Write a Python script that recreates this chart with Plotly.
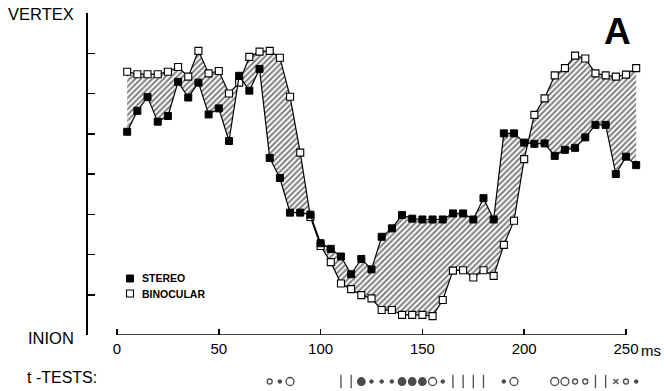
import plotly.graph_objects as go

# ---------------- data ----------------
times_ms = [5, 10, 15, 20, 25, 30, 35, 40, 45, 50,
            55, 60, 65, 70, 75, 80, 85, 90, 95, 100,
            105, 110, 115, 120, 125, 130, 135, 140, 145, 150,
            155, 160, 165, 170, 175, 180, 185, 190, 195, 200,
            205, 210, 215, 220, 225, 230, 235, 240, 245, 250, 255]

stereo = [5.05, 5.57, 5.91, 5.30, 5.44, 6.29, 5.90, 6.27, 5.48, 5.63,
          4.82, 6.44, 6.07, 6.61, 4.40, 3.90, 3.04, 3.04, 2.99, 2.28,
          2.14, 1.95, 1.51, 1.89, 1.63, 2.44, 2.65, 2.98, 2.89, 2.87,
          2.87, 2.87, 3.02, 3.02, 2.87, 3.40, 2.87, 5.01, 5.01, 4.78,
          4.75, 4.76, 4.45, 4.60, 4.65, 4.91, 5.22, 5.22, 4.00, 4.43, 4.22]

binocular = [6.54, 6.48, 6.48, 6.48, 6.54, 6.66, 6.42, 7.06, 6.50, 6.56,
             6.00, 6.27, 6.91, 7.04, 7.06, 6.89, 5.92, 4.53, 2.93, 2.21,
             1.81, 1.28, 1.14, 0.99, 0.91, 0.62, 0.62, 0.50, 0.50, 0.50,
             0.47, 0.87, 1.60, 1.61, 1.43, 1.61, 1.47, 2.24, 2.84, 4.37,
             5.47, 5.88, 6.45, 6.63, 6.94, 6.87, 6.50, 6.45, 6.42, 6.47, 6.63]

x_tick_vals = [0, 50, 100, 150, 200, 250]
x_tick_text = ["0", "50", "100", "150", "200", "250"]
y_tick_vals = [0, 1, 2, 3, 4, 5, 6, 7, 8]

ttest_times = [75, 80, 85, 110, 115, 120, 125, 130, 135, 140, 145, 150, 155, 160,
               165, 170, 175, 180, 190, 195, 215, 220, 225, 230, 235, 240, 245, 250, 255]
ttest_marks = ["o", ".", "O", "|", "|", "*", ".", ".", ".", "*", "*", "*", "O", ".",
               "|", "|", "|", "|", ".", "O", "O", "O", "o", "o", "|", "|", "x", "o", "."]

# ---------------- styling ----------------
FONT = "Liberation Sans, Arial, Helvetica, sans-serif"
W, H = 664, 391
ML, MR, MT, MB = 88, 14, 13, 5
PW, PH = W - ML - MR, H - MT - MB


def px_x(p):
    return (p - ML) / PW


def px_y(p):
    return (H - MB - p) / PH


mark_style = {
    "o": ("circle-open", 5),
    ".": ("circle", 3.2),
    "O": ("circle-open", 8),
    "*": ("circle", 7.5),
    "|": ("line-ns-open", 9.5),
    "x": ("x-thin-open", 5),
}

fig = go.Figure()

# hatched band between the two curves
fig.add_trace(go.Scatter(x=times_ms, y=binocular, mode="lines",
                         line=dict(width=0, color="black"), hoverinfo="skip"))
fig.add_trace(go.Scatter(x=times_ms, y=stereo, mode="lines", fill="tonexty",
                         line=dict(width=0, color="black"),
                         fillcolor="white",
                         fillpattern=dict(shape="/", fgcolor="black", bgcolor="white",
                                          size=4, solidity=0.5),
                         hoverinfo="skip"))

# the two series
fig.add_trace(go.Scatter(x=times_ms, y=binocular, mode="lines+markers", name="BINOCULAR",
                         line=dict(width=1.2, color="black"),
                         marker=dict(symbol="square", size=7, color="white",
                                     line=dict(width=1.1, color="black"))))
fig.add_trace(go.Scatter(x=times_ms, y=stereo, mode="lines+markers", name="STEREO",
                         line=dict(width=1.2, color="black"),
                         marker=dict(symbol="square", size=7, color="black",
                                     line=dict(width=1, color="black"))))

# t-tests row
fig.add_trace(go.Scatter(
    x=ttest_times, y=[0] * len(ttest_times), xaxis="x", yaxis="y2", mode="markers",
    cliponaxis=False,
    marker=dict(symbol=[mark_style[m][0] for m in ttest_marks],
                size=[mark_style[m][1] for m in ttest_marks],
                color="black", line=dict(width=1.3, color="black")),
    hoverinfo="skip"))

annotations = [
    dict(text="VERTEX", x=px_x(76), y=px_y(14), xanchor="right", yanchor="middle",
         font=dict(size=16.5, color="black", family=FONT)),
    dict(text="INION", x=px_x(76), y=px_y(337.5), xanchor="right", yanchor="middle",
         font=dict(size=16.5, color="black", family=FONT)),
    dict(text="t -TESTS:", x=px_x(25), y=px_y(377), xanchor="left", yanchor="middle",
         font=dict(size=16, color="black", family=FONT)),
    dict(text="<b>A</b>", x=px_x(617), y=px_y(31), xanchor="center", yanchor="middle",
         font=dict(size=37, color="black", family=FONT)),
    dict(text="ms", x=px_x(639), y=px_y(350), xanchor="left", yanchor="middle",
         font=dict(size=15, color="black", family=FONT)),
    dict(text="<b>STEREO</b>", x=px_x(140), y=px_y(278.5), xanchor="left", yanchor="middle",
         font=dict(size=10.5, color="black", family=FONT)),
    dict(text="<b>BINOCULAR</b>", x=px_x(140), y=px_y(293.5), xanchor="left", yanchor="middle",
         font=dict(size=10.5, color="black", family=FONT)),
]
for a in annotations:
    a.update(xref="paper", yref="paper", showarrow=False)

shapes = [
    # x axis baseline, from 0 to 250 ms only
    dict(type="line", xref="x", yref="y", x0=x_tick_vals[0], x1=x_tick_vals[-1], y0=0, y1=0,
         line=dict(color="black", width=1.6)),
    # legend squares
    dict(type="rect", xref="paper", yref="paper", x0=px_x(126.5), x1=px_x(133.5),
         y0=px_y(282), y1=px_y(275), fillcolor="black", line=dict(color="black", width=1)),
    dict(type="rect", xref="paper", yref="paper", x0=px_x(126.5), x1=px_x(133.5),
         y0=px_y(297), y1=px_y(290), fillcolor="white", line=dict(color="black", width=1.1)),
]

fig.update_layout(
    width=W, height=H,
    margin=dict(l=ML, r=MR, t=MT, b=MB, pad=0),
    paper_bgcolor="white", plot_bgcolor="white",
    showlegend=False,
    font=dict(family=FONT, color="black", size=15),
    xaxis=dict(range=[(ML - 117) / 2.036, (W - MR - 117) / 2.036],
               tickvals=x_tick_vals, ticktext=x_tick_text,
               ticks="inside", ticklen=6, tickwidth=1.5, tickcolor="black",
               showline=False, showgrid=False, zeroline=False,
               ticklabelstandoff=3,
               tickfont=dict(size=15, family=FONT, color="black"),
               anchor="y"),
    yaxis=dict(domain=[px_y(335), 1], range=[0, 8], tickvals=y_tick_vals,
               showticklabels=False, ticks="inside", ticklen=7, tickwidth=1.5,
               tickcolor="black", showline=True, linewidth=2, linecolor="black",
               showgrid=False, zeroline=False),
    yaxis2=dict(domain=[0, 0.06], range=[-0.2, 0.8], visible=False, anchor="x"),
    annotations=annotations,
    shapes=shapes,
)

fig.write_html("out.html",
               config={"displayModeBar": False, "staticPlot": True},
               post_script="document.body.style.margin='0px';document.body.style.overflow='hidden';")
